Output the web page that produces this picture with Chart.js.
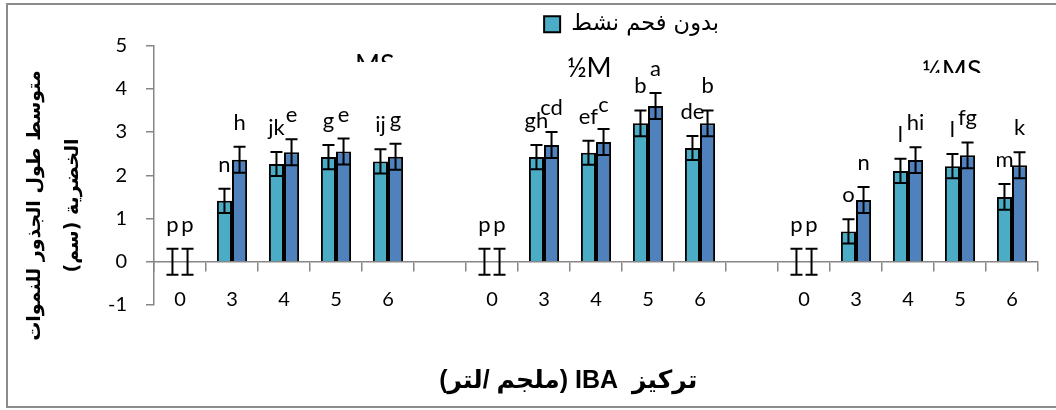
<!DOCTYPE html>
<html>
<head>
<meta charset="utf-8">
<script src="https://cdn.jsdelivr.net/npm/chart.js@4.4.1/dist/chart.umd.min.js"></script>
<style>
  html, body { margin: 0; padding: 0; background: #fff; }
  #wrap { position: relative; width: 1056px; height: 410px; overflow: hidden; }
  #frame { position: absolute; left: 6px; top: 3px; width: 1200px; height: 405px; border: 2px solid #8c8c8c; box-sizing: border-box; }
  canvas { position: absolute; left: 0; top: 0; }
</style>
</head>
<body>
<div id="wrap">
  <div id="frame"></div>
  <canvas id="chart" width="1056" height="410"></canvas>
</div>
<script>
// IBA concentrations (mg/L) for each medium, with an empty slot between groups
const categories = ['0', '3', '4', '5', '6', '', '0', '3', '4', '5', '6', '', '0', '3', '4', '5', '6']
const groupNames = ['MS', '½MS', '¼MS']
const seriesNames = ['بدون فحم نشط', 'مع فحم نشط']

// mean root length (cm)
const withoutCharcoal = [0, 1.41, 2.26, 2.42, 2.32, null, 0, 2.42, 2.52, 3.2, 2.63, null, 0, 0.70, 2.10, 2.21, 1.50]
const withCharcoal = [0, 2.36, 2.53, 2.55, 2.43, null, 0, 2.70, 2.77, 3.6, 3.2, null, 0, 1.43, 2.35, 2.46, 2.23]

// error bar half-widths
const errWithout = [0.3, 0.28, 0.28, 0.28, 0.28, null, 0.3, 0.28, 0.28, 0.3, 0.28, null, 0.3, 0.28, 0.28, 0.28, 0.3]
const errWith = [0.3, 0.3, 0.3, 0.3, 0.3, null, 0.3, 0.3, 0.3, 0.3, 0.3, null, 0.3, 0.3, 0.3, 0.3, 0.3]

// significance letters
const lettersWithout = ['p', 'n', 'jk', 'g', 'ij', '', 'p', 'gh', 'ef', 'b', 'de', '', 'p', 'o', 'l', 'l', 'm']
const lettersWith = ['p', 'h', 'e', 'e', 'g', '', 'p', 'cd', 'c', 'a', 'b', '', 'p', 'n', 'hi', 'fg', 'k']

const yMin = -1
const yMax = 5

const teal = '#4BACC6'
const blue = '#4F81BD'
const axisGray = '#868686'
const latin = 'Lato'
const arabic = 'DejaVu Sans'

const RLE = '\u202B', PDF = '\u202C'

// letters + error bars drawn on top of the bars
const errorBarPlugin = {
  id: 'errorBars',
  afterDatasetsDraw(chart) {
    const ctx = chart.ctx
    const y = chart.scales.y
    const errs = [errWithout, errWith]
    const letters = [lettersWithout, lettersWith]
    ctx.save()
    chart.data.datasets.forEach((ds, i) => {
      const meta = chart.getDatasetMeta(i)
      meta.data.forEach((bar, j) => {
        const v = ds.data[j]
        if (v === null) return
        const e = errs[i][j]
        const top = y.getPixelForValue(v + e)
        const bot = y.getPixelForValue(v - e)
        ctx.strokeStyle = '#000'
        ctx.lineWidth = 2
        ctx.beginPath()
        ctx.moveTo(bar.x, top); ctx.lineTo(bar.x, bot)
        ctx.moveTo(bar.x - 6, top); ctx.lineTo(bar.x + 6, top)
        ctx.moveTo(bar.x - 6, bot); ctx.lineTo(bar.x + 6, bot)
        ctx.stroke()

        ctx.fillStyle = '#000'
        ctx.font = '22px ' + latin
        ctx.textAlign = 'center'
        ctx.textBaseline = 'middle'
        ctx.fillText(letters[i][j], bar.x, top - 24)
      })
    })
    ctx.restore()
  }
}

// medium names, partly hidden behind the plot like in the source sheet
const groupSpots = [
  { x: 355, base: 74, clip: [340, 40, 80, 22] },
  { x: 567, base: 77, clip: [550, 40, 62, 45] },
  { x: 922, base: 80, clip: [900, 40, 100, 33] }
]
const groupLabelPlugin = {
  id: 'groupLabels',
  afterDraw(chart) {
    const ctx = chart.ctx
    groupNames.forEach((name, i) => {
      const s = groupSpots[i]
      ctx.save()
      ctx.beginPath()
      ctx.rect(...s.clip)
      ctx.clip()
      ctx.font = '27px ' + latin
      ctx.fillStyle = '#000'
      ctx.textAlign = 'left'
      ctx.textBaseline = 'alphabetic'
      ctx.fillText(name, s.x, s.base)
      ctx.restore()
    })
  }
}

new Chart(document.getElementById('chart'), {
  type: 'bar',
  data: {
    labels: categories,
    datasets: [
      {
        label: seriesNames[0],
        data: withoutCharcoal,
        backgroundColor: teal,
        borderColor: '#000',
        borderWidth: 2,
        categoryPercentage: 0.58,
        barPercentage: 1.0
      },
      {
        label: seriesNames[1],
        data: withCharcoal,
        backgroundColor: blue,
        borderColor: '#000',
        borderWidth: 2,
        categoryPercentage: 0.58,
        barPercentage: 1.0
      }
    ]
  },
  options: {
    responsive: false,
    animation: false,
    devicePixelRatio: 1,
    layout: { padding: { top: 1, right: 18, bottom: 0, left: 0 } },
    plugins: {
      tooltip: { enabled: false },
      legend: {
        position: 'top',
        labels: {
          color: '#000',
          font: { family: arabic, size: 22.5 },
          boxWidth: 16,
          boxHeight: 16,
          padding: 12,
          // only the first series shows, the other entry is cut off in the source
          generateLabels: () => [
            { text: ' '.repeat(26), fillStyle: 'rgba(0,0,0,0)', strokeStyle: 'rgba(0,0,0,0)', lineWidth: 0, fontColor: 'rgba(0,0,0,0)', datasetIndex: 1, hidden: false },
            { text: seriesNames[0], fillStyle: teal, strokeStyle: '#000', lineWidth: 2, fontColor: '#000', datasetIndex: 0, hidden: false }
          ]
        }
      },
      title: {
        display: true,
        position: 'left',
        text: ['متوسط طول الجذور للنموات', RLE + 'الخضرية (سم)' + PDF],
        color: '#000',
        font: { family: arabic, size: 19, weight: 'bold', lineHeight: '38px' },
        padding: { top: 16, bottom: 0 }
      }
    },
    scales: {
      x: {
        grid: { display: false, drawTicks: false },
        border: { display: false },
        ticks: { display: false },
        title: {
          display: true,
          text: RLE + 'تركيز  IBA (ملجم /لتر)' + PDF + ' '.repeat(8),
          color: '#000',
          font: { family: "'Liberation Sans', 'DejaVu Sans'", size: 25, weight: 'bold' },
          padding: { top: 4, bottom: 14 }
        },
        afterFit: s => { s.height = 105 }
      },
      x2: {
        type: 'category',
        labels: categories,
        position: { y: 0 },
        offset: true,
        grid: { offset: true, drawOnChartArea: false, tickLength: 9, color: axisGray, lineWidth: 1.5 },
        border: { color: axisGray, width: 1.5 },
        ticks: { color: '#000', font: { family: latin, size: 20 }, padding: 17, maxRotation: 0, autoSkip: false }
      },
      y: {
        min: yMin,
        max: yMax,
        ticks: { stepSize: 1, color: '#000', font: { family: latin, size: 20 }, padding: 19 },
        grid: { drawOnChartArea: false, tickLength: 8, color: axisGray, lineWidth: 1.5 },
        border: { color: axisGray, width: 1.5 },
        afterFit: s => { s.width = 62 }
      }
    }
  },
  plugins: [errorBarPlugin, groupLabelPlugin]
})
</script>
</body>
</html>
